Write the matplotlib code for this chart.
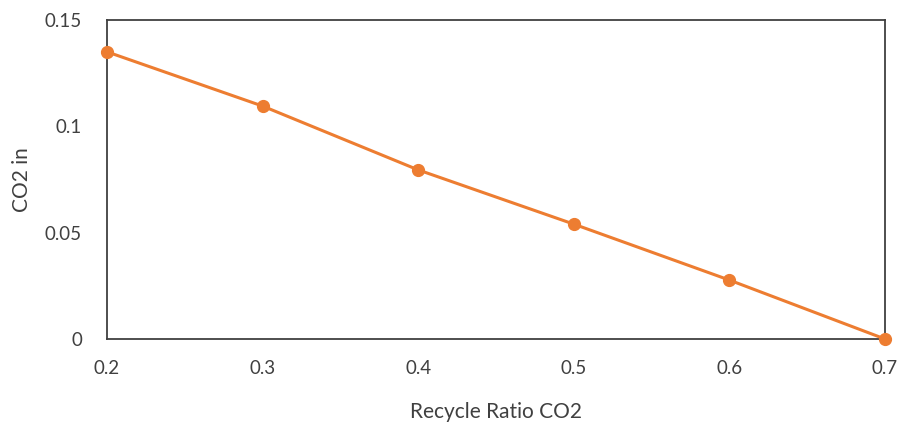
import matplotlib
matplotlib.use("Agg")
import matplotlib.pyplot as plt

# recycle ratio vs CO2 in
recycle_ratio = [0.2, 0.3, 0.4, 0.5, 0.6, 0.7]
co2_in = [0.135, 0.1095, 0.0795, 0.054, 0.0277, 0.0]

x_ticks = [0.2, 0.3, 0.4, 0.5, 0.6, 0.7]
x_labels = ["0.2", "0.3", "0.4", "0.5", "0.6", "0.7"]
y_ticks = [0, 0.05, 0.1, 0.15]
y_labels = ["0", "0.05", "0.1", "0.15"]

plt.rcParams['font.family'] = ['Lato', 'DejaVu Sans']

fig = plt.figure(figsize=(9.02, 4.24), dpi=100)
ax = fig.add_axes([0.1186, 0.2005, 0.8625, 0.7525])

ax.plot(recycle_ratio, co2_in, color="#ED7D31", linewidth=2.2,
        marker="o", markersize=8.5, clip_on=False, zorder=3)

ax.set_xlim(0.2, 0.7)
ax.set_ylim(0, 0.15)
ax.set_xticks(x_ticks)
ax.set_xticklabels(x_labels)
ax.set_yticks(y_ticks)
ax.set_yticklabels(y_labels)
ax.tick_params(length=0, labelsize=13.5, colors="#404040")
ax.tick_params(axis="y", pad=18)
ax.tick_params(axis="x", pad=15)

for s in ax.spines.values():
    s.set_color("#404040")
    s.set_linewidth(1.3)

ax.set_xlabel("Recycle Ratio CO2", fontsize=15, color="#404040", labelpad=18)
ax.set_ylabel("CO2 in", fontsize=15, color="#404040", labelpad=9)

fig.savefig("out.png", dpi=100)
